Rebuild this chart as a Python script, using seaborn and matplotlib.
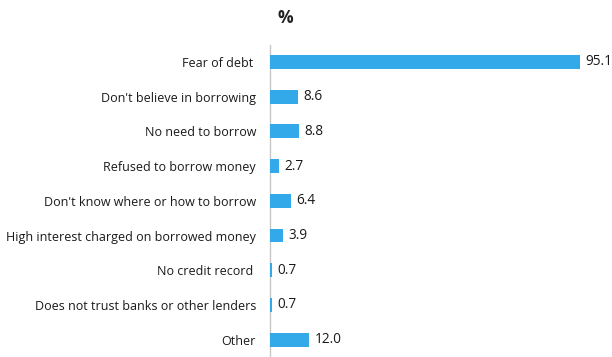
import matplotlib
matplotlib.use("Agg")
import matplotlib.pyplot as plt
import seaborn as sns
import pandas as pd

# Reasons for not borrowing, share of respondents (%)
reasons = [
    "Fear of debt ",
    "Don't believe in borrowing",
    "No need to borrow",
    "Refused to borrow money",
    "Don't know where or how to borrow",
    "High interest charged on borrowed money",
    "No credit record ",
    "Does not trust banks or other lenders",
    "Other",
]
shares = [95.1, 8.6, 8.8, 2.7, 6.4, 3.9, 0.7, 0.7, 12.0]
value_labels = ["95.1", "8.6", "8.8", "2.7", "6.4", "3.9", "0.7", "0.7", "12.0"]

df = pd.DataFrame({"reason": reasons, "share": shares})

sns.set_theme(style="white")
plt.rcParams["font.family"] = ["Open Sans", "DejaVu Sans"]

fig = plt.figure(figsize=(6.12, 3.57), dpi=100)
ax = fig.add_axes([270 / 612, 0.0, 326 / 612, 1 - 44.6 / 357])

sns.barplot(data=df, x="share", y="reason", color="#33A9E9", width=0.40,
            saturation=1, linewidth=0, ax=ax, orient="h")
for bar in ax.patches:
    bar.set_zorder(3)

ax.set_xlim(0, 100)
ax.set_ylim(8.5, -0.5)
ax.set_xlabel("")
ax.set_ylabel("")
ax.set_xticks([])
ax.tick_params(axis="y", length=0, pad=10, labelsize=9.0, colors="#1a1a1a")

for side in ["top", "right", "bottom"]:
    ax.spines[side].set_visible(False)
ax.spines["left"].set_color("#C8C8C8")
ax.spines["left"].set_linewidth(1.0)
ax.spines["left"].set_zorder(1)

ax.bar_label(ax.containers[0], labels=value_labels, padding=4,
             fontsize=9.8, color="#1a1a1a")

fig.text(285 / 612, 1 - 18 / 357, "%", ha="center", va="center",
         fontsize=12.5, fontweight="bold", color="#222222")

fig.savefig("out.png", dpi=100)
